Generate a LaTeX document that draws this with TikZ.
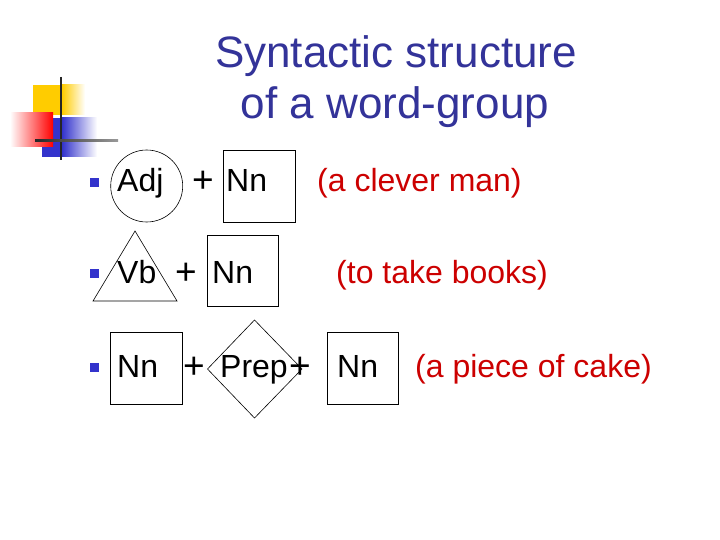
\documentclass[tikz,border=0pt]{standalone}
\usepackage{fontspec}
\setmainfont{Liberation Sans}
\definecolor{titleblue}{RGB}{51,51,153}
\definecolor{exred}{RGB}{204,0,0}
\definecolor{bulletblue}{RGB}{51,51,204}
\definecolor{logoyellow}{RGB}{255,204,0}
\definecolor{logored}{RGB}{255,0,0}
\definecolor{logoblue}{RGB}{51,51,204}
\begin{document}
\begin{tikzpicture}[x=1pt,y=-1pt,
  titletext/.style={font=\fontsize{44}{50}\selectfont, text=titleblue, inner sep=0, anchor=base},
  body/.style={font=\fontsize{32}{38}\selectfont, inner sep=0, anchor=base west},
  plus/.style={font=\fontsize{37}{40}\selectfont, inner sep=0, anchor=base west},
  example/.style={body, text=exred},
  bul/.style={fill=bulletblue, minimum size=9pt, inner sep=0},
  shapeline/.style={draw=black, line width=0.6pt}]
\useasboundingbox[fill=white] (0,0) rectangle (720,540);
% logo
\fill[logoyellow] (33,85) rectangle (62,115);
\shade[left color=logoyellow, right color=white] (62,85) rectangle (85,115);
\fill[logoblue] (42,118) rectangle (62,157);
\shade[left color=logoblue, right color=white] (62,118) rectangle (97,157);
\shade[left color=white, right color=logored] (10,113) rectangle (53,147);
\draw[line width=1.8pt, black!85] (61,77) -- (61,160);
\shade[left color=black!85, right color=black!40] (35,140) rectangle (118,142);
% title
\node[titletext] (t1) at (396,68) {Syntactic structure};
\node[titletext] (t2) at (395,119) {of a word-group};
% row 1
\node[bul] (b1) at (94,183) {};
\draw[shapeline] (146.7,186) circle (36pt);
\draw[shapeline] (223,150) rectangle (295,222);
\node[body] (adj) at (117,192) {Adj};
\node[plus] (p1) at (192,193) {+};
\node[body] (nn1) at (226,192) {Nn};
\node[example] (ex1) at (317,192) {(a clever man)};
% row 2
\node[bul] (b2) at (94,273) {};
\draw[shapeline] (135,231) -- (177,301) -- (93,301) -- cycle;
\draw[shapeline] (207,235) rectangle (278,306);
\node[body] (vb) at (117,283) {Vb};
\node[plus] (p2) at (175,284) {+};
\node[body] (nn2) at (212,283) {Nn};
\node[example] (ex2) at (336,283) {(to take books)};
% row 3
\node[bul] (b3) at (94,367) {};
\draw[shapeline] (110,332) rectangle (182,404);
\draw[shapeline] (254.5,320) -- (302,369) -- (254.5,418) -- (207.5,369) -- cycle;
\draw[shapeline] (327,332) rectangle (398,404);
\node[body] (nn3) at (117,377) {Nn};
\node[plus] (p3) at (183,378) {+};
\node[body] (prep) at (220,377) {Prep};
\node[plus] (p4) at (289,378) {+};
\node[body] (nn4) at (337,377) {Nn};
\node[example] (ex3) at (415,377) {(a piece of cake)};
\end{tikzpicture}
\end{document}
